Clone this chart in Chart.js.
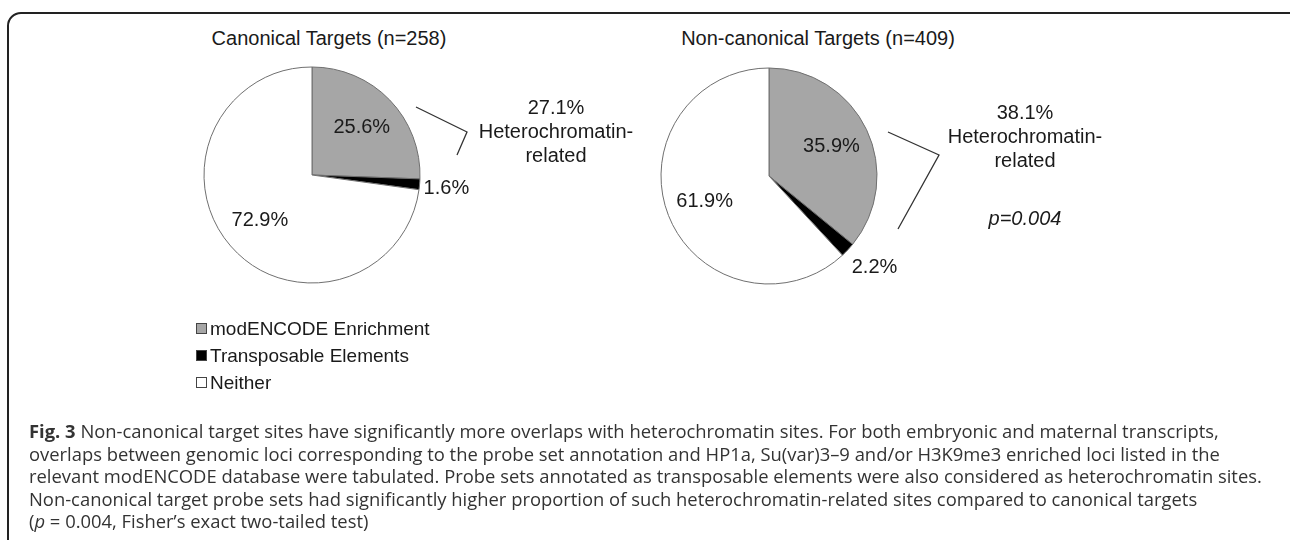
<!DOCTYPE html>
<html>
<head>
<meta charset="utf-8">
<script src="https://cdn.jsdelivr.net/npm/chart.js@4.4.1/dist/chart.umd.min.js"></script>
<style>
  body {
    margin: 0;
    width: 1290px;
    height: 540px;
    overflow: hidden;
    position: relative;
    background: #fff;
    font-family: "Liberation Sans", Arial, sans-serif;
    color: #1a1a1a;
  }
  .frame {
    position: absolute;
    left: 7px;
    top: 12px;
    width: 1300px;
    height: 600px;
    border: 2px solid #222;
    border-radius: 14px;
    box-sizing: border-box;
  }
  canvas.pie { position: absolute; }
  .title {
    position: absolute;
    font-size: 20px;
    white-space: nowrap;
    transform: translate(-50%, -50%);
  }
  .note {
    position: absolute;
    font-size: 20px;
    line-height: 24px;
    text-align: center;
    white-space: nowrap;
    transform: translateX(-50%);
  }
  #legend {
    position: absolute;
    left: 196px;
    top: 315px;
    font-size: 19px;
    line-height: 27px;
  }
  #legend span.box {
    display: inline-block;
    width: 9px;
    height: 9px;
    border: 1px solid #444;
    margin-right: 3px;
    vertical-align: 1px;
  }
  .caption {
    position: absolute;
    left: 29px;
    top: 420px;
    font-family: "Open Sans", "Noto Sans", sans-serif;
    font-size: 18.4px;
    line-height: 22.6px;
    color: #333;
    white-space: nowrap;
  }
  svg { position: absolute; left: 0; top: 0; }
</style>
</head>
<body>
<div class="frame"></div>

<div class="title" style="left:329px; top:38px;">Canonical Targets (n=258)</div>
<div class="title" style="left:818px; top:38px;">Non-canonical Targets (n=409)</div>

<canvas id="pieCanonical" class="pie" width="320" height="240" style="left:152px; top:55px;"></canvas>
<canvas id="pieNonCanonical" class="pie" width="320" height="240" style="left:609px; top:56px;"></canvas>

<svg width="1290" height="540">
  <polyline points="416,107 467,132 457,155" fill="none" stroke="#333" stroke-width="1.3"/>
  <polyline points="888,132 939,155 898,229" fill="none" stroke="#333" stroke-width="1.3"/>
</svg>

<div class="note" style="left:556px; top:95px;">27.1%<br>Heterochromatin-<br>related</div>
<div class="note" style="left:1025px; top:100px;">38.1%<br>Heterochromatin-<br>related</div>
<div class="note" style="left:1025px; top:206px;"><i>p=0.004</i></div>

<div id="legend"></div>

<div class="caption">
<b>Fig. 3</b> Non-canonical target sites have significantly more overlaps with heterochromatin sites. For both embryonic and maternal transcripts,<br>
overlaps between genomic loci corresponding to the probe set annotation and HP1a, Su(var)3–9 and/or H3K9me3 enriched loci listed in the<br>
relevant modENCODE database were tabulated. Probe sets annotated as transposable elements were also considered as heterochromatin sites.<br>
Non-canonical target probe sets had significantly higher proportion of such heterochromatin-related sites compared to canonical targets<br>
(<i>p</i> = 0.004, Fisher’s exact two-tailed test)
</div>

<script>
const categories = ["modENCODE Enrichment", "Transposable Elements", "Neither"];
const canonicalValues = [25.6, 1.6, 72.9];
const nonCanonicalValues = [35.9, 2.2, 61.9];
const sliceColors = ["#a6a6a6", "#000000", "#ffffff"];

// percentage labels: inside for big slices, just outside the rim for thin ones
const sliceLabels = {
  id: "sliceLabels",
  afterDatasetsDraw(chart, args, opts) {
    const ctx = chart.ctx;
    const values = chart.data.datasets[0].data;
    ctx.save();
    ctx.font = "20px 'Liberation Sans', Arial, sans-serif";
    ctx.fillStyle = "#1a1a1a";
    chart.getDatasetMeta(0).data.forEach((arc, i) => {
      const p = arc.getProps(["x", "y", "startAngle", "endAngle", "outerRadius"], true);
      const mid = (p.startAngle + p.endAngle) / 2;
      const text = values[i].toFixed(1) + "%";
      if (values[i] < 5) {
        ctx.textAlign = "left";
        ctx.textBaseline = "middle";
        const ex = p.x + Math.cos(mid) * p.outerRadius;
        const ey = p.y + Math.sin(mid) * p.outerRadius;
        ctx.fillText(text, ex + 4, ey + 2 + 22 * Math.sin(mid));
      } else {
        const r = p.outerRadius * opts.inside;
        ctx.textAlign = "center";
        ctx.textBaseline = "middle";
        ctx.fillText(text, p.x + Math.cos(mid) * r, p.y + Math.sin(mid) * r);
      }
    });
    ctx.restore();
  },
};

function makePie(id, values) {
  return new Chart(document.getElementById(id), {
    type: "pie",
    data: {
      labels: categories,
      datasets: [
        {
          data: values,
          backgroundColor: sliceColors,
          borderColor: "#6f6f6f",
          borderWidth: 1,
        },
      ],
    },
    options: {
      responsive: false,
      animation: false,
      radius: 108,
      plugins: {
        legend: { display: false },
        tooltip: { enabled: false },
        sliceLabels: { inside: 0.64 },
      },
    },
    plugins: [sliceLabels],
  });
}

makePie("pieCanonical", canonicalValues);
makePie("pieNonCanonical", nonCanonicalValues);

// legend list under the left pie
const legend = document.getElementById("legend");
categories.forEach((name, i) => {
  const row = document.createElement("div");
  const box = document.createElement("span");
  box.className = "box";
  box.style.background = sliceColors[i];
  row.appendChild(box);
  row.appendChild(document.createTextNode(name));
  legend.appendChild(row);
});
</script>
</body>
</html>
